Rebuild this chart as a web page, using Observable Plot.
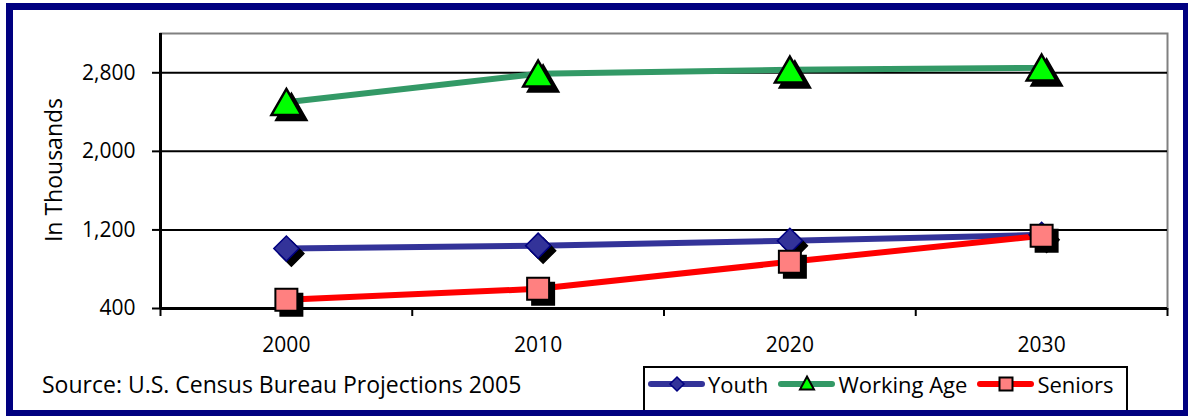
<!DOCTYPE html>
<html><head><meta charset="utf-8">
<script src="https://cdn.jsdelivr.net/npm/d3@7"></script>
<script src="https://cdn.jsdelivr.net/npm/@observablehq/plot@0.6"></script>
<style>
body{margin:0;background:#fff;font-family:"Open Sans",sans-serif;color:#000;}
#wrap{position:relative;width:1188px;height:416px;overflow:hidden;background:#fff;}
#chart{position:absolute;left:0;top:0;}
#frame{position:absolute;left:6px;top:3px;width:1184px;height:414px;box-sizing:border-box;border:7px solid #000080;pointer-events:none;}
#ylabel{position:absolute;left:53px;top:170px;transform:translate(-50%,-50%) rotate(-90deg);font-size:23px;white-space:nowrap;}
#source{position:absolute;left:42px;top:368px;font-size:23px;white-space:nowrap;}
#legend{position:absolute;left:643px;top:366px;width:485px;height:48px;box-sizing:border-box;border:2px solid #000;background:#fff;}
#legend .row{display:flex;align-items:center;height:32px;padding-left:3px;}
#legend .item{display:flex;align-items:center;margin-right:10px;font-size:22px;white-space:nowrap;}
#legend svg{margin-right:3px;}
</style></head>
<body><div id="wrap"><div id="chart"></div><div id="ylabel"></div><div id="source"></div><div id="legend"><div class="row"></div></div><div id="frame"></div></div>
<script>
const years = [2000, 2010, 2020, 2030];
const youth = [1010, 1040, 1090, 1150];
const workingAge = [2500, 2790, 2830, 2850];
const seniors = [490, 600, 875, 1140];
const seriesNames = ["Youth", "Working Age", "Seniors"];
const yTicks = [400, 1200, 2000, 2800];
const yLabel = "In Thousands";
const sourceText = "Source: U.S. Census Bureau Projections 2005";

const xDomain = [years[0] - 5, years[years.length - 1] + 5];
const yDomain = [400, 3200];
const boundaries = years.map(y => y - 5).concat([xDomain[1]]);

const styles = {
  "Youth": {line: "#333399", symbol: "diamond2", r: 11.3, fill: "#333399", stroke: "#000080", sw: 1.5, dy: 0},
  "Working Age": {line: "#339966", symbol: "triangle", r: 11.1, fill: "#00FF00", stroke: "#000", sw: 2.5, dy: 4},
  "Seniors": {line: "#FF0000", symbol: "square", r: 12.4, fill: "#FF8080", stroke: "#000", sw: 2, dy: 0}
};
const values = {"Youth": youth, "Working Age": workingAge, "Seniors": seniors};
const rows = {};
for (const s of seriesNames) rows[s] = years.map((yr, i) => ({year: yr, value: values[s][i], series: s}));

const marks = [
  Plot.frame({stroke: "#808080", strokeWidth: 2}),
  Plot.ruleY(yTicks.slice(1), {stroke: "#000", strokeWidth: 2}),
  Plot.ruleX([xDomain[0]], {stroke: "#000", strokeWidth: 3}),
  Plot.ruleY([yDomain[0]], {stroke: "#000", strokeWidth: 3}),
  Plot.axisY({ticks: yTicks, tickSize: 8, tickPadding: 17, tickFormat: d3.format(","), label: null, fontSize: 21, strokeWidth: 2}),
  Plot.axisX({ticks: boundaries, tickSize: 8, tickFormat: () => "", label: null, strokeWidth: 2}),
  Plot.axisX({ticks: years, tickSize: 0, tickPadding: 29, tickFormat: d => String(d), label: null, fontSize: 21})
];
for (const s of seriesNames) {
  marks.push(Plot.line(rows[s], {x: "year", y: "value", stroke: styles[s].line, strokeWidth: 6, strokeLinecap: "butt"}));
}
for (const s of seriesNames) {
  const st = styles[s];
  marks.push(Plot.dot(rows[s], {x: "year", y: "value", symbol: st.symbol, r: st.r, fill: "#000", stroke: "#000", strokeWidth: st.sw, dx: 5, dy: st.dy + 5, strokeLinejoin: "miter"}));
  marks.push(Plot.dot(rows[s], {x: "year", y: "value", symbol: st.symbol, r: st.r, fill: st.fill, stroke: st.stroke, strokeWidth: st.sw, dy: st.dy, strokeLinejoin: "miter"}));
}

const chart = Plot.plot({
  width: 1188, height: 365,
  marginLeft: 160, marginRight: 21, marginTop: 33, marginBottom: 57,
  x: {type: "linear", domain: xDomain},
  y: {type: "linear", domain: yDomain},
  style: {fontFamily: "Open Sans", fontSize: "21px", color: "#000", background: "transparent", overflow: "visible"},
  marks
});
document.getElementById("chart").appendChild(chart);
document.getElementById("ylabel").textContent = yLabel;
document.getElementById("source").textContent = sourceText;

const legendRow = document.querySelector("#legend .row");
const legendMarker = {
  "Youth": '<path d="M29,3 L36,10 L29,17 L22,10 Z" fill="#333399" stroke="#000080" stroke-width="1.5"/>',
  "Working Age": '<path d="M29,2.5 L36,15.5 L22,15.5 Z" fill="#00FF00" stroke="#000" stroke-width="2" stroke-linejoin="miter"/>',
  "Seniors": '<rect x="22.5" y="3.5" width="13" height="13" fill="#FF8080" stroke="#000" stroke-width="2"/>'
};
for (const s of seriesNames) {
  const item = document.createElement("div");
  item.className = "item";
  item.innerHTML = `<svg width="57" height="20" viewBox="0 0 57 20"><line x1="3" y1="10" x2="54" y2="10" stroke="${styles[s].line}" stroke-width="6" stroke-linecap="round"/>${legendMarker[s]}</svg><span>${s}</span>`;
  legendRow.appendChild(item);
}
</script></body></html>
